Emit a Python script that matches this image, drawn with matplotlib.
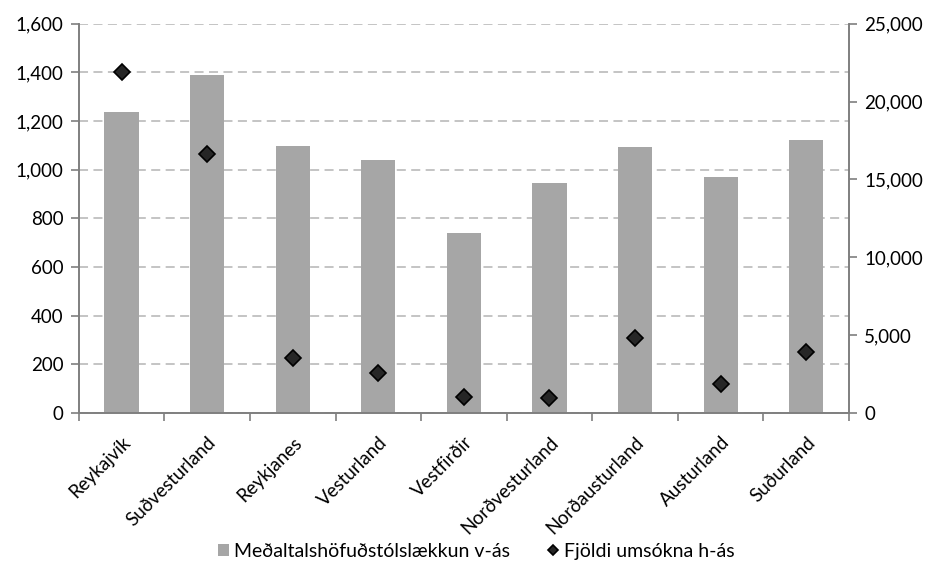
import matplotlib.pyplot as plt
from matplotlib.ticker import FuncFormatter
from matplotlib.transforms import ScaledTranslation
import numpy as np

plt.rcParams['font.family'] = ['Lato', 'DejaVu Sans']

regions = ['Reykajvík', 'Suðvesturland', 'Reykjanes', 'Vesturland', 'Vestfirðir',
           'Norðvesturland', 'Norðausturland', 'Austurland', 'Suðurland']
# average principal reduction (left axis)
lakkun = [1237, 1390, 1099, 1040, 738, 944, 1095, 971, 1122]
# number of applications (right axis)
umsoknir = [21900, 16630, 3540, 2530, 1030, 965, 4820, 1850, 3900]

gray = '#7f7f7f'
comma = FuncFormatter(lambda v, p: f'{v:,.0f}')

fig = plt.figure(figsize=(9.32, 5.64), dpi=100)
ax = fig.add_axes([0.0845, 0.268, 0.8265, 0.69])
ax2 = ax.twinx()

x = np.arange(len(regions))
bars = ax.bar(x, lakkun, width=0.4, color='#a6a6a6', zorder=2,
              label='Meðaltalshöfuðstólslækkun v-ás')
pts, = ax2.plot(x, umsoknir, 'D', color='#262626', markeredgecolor='black',
                markeredgewidth=1.2, markersize=8, zorder=3,
                label='Fjöldi umsókna h-ás')

ax.set_xlim(-0.5, len(regions) - 0.5)
ax.set_ylim(0, 1600)
ax.set_yticks(range(0, 1601, 200))
ax.yaxis.set_major_formatter(comma)
ax2.set_ylim(0, 25000)
ax2.set_yticks(range(0, 25001, 5000))
ax2.yaxis.set_major_formatter(comma)

ax.yaxis.grid(True, color='#bfbfbf', linestyle=(0, (5, 3)), linewidth=1.3, zorder=0)
ax.set_axisbelow(True)

for a in (ax, ax2):
    for s in a.spines.values():
        s.set_color(gray)
        s.set_linewidth(1.2)
    a.spines['top'].set_visible(False)
    a.tick_params(axis='y', colors=gray, labelcolor='black', labelsize=13.5,
                  length=6, width=1.2, direction='out', pad=5)

ax.set_xticks(x)
ax.set_xticklabels(regions, rotation=45, ha='right', va='top',
                   rotation_mode='anchor', fontsize=13.5)
shift = ScaledTranslation(5 / 100, 0, fig.dpi_scale_trans)
for lbl in ax.get_xticklabels():
    lbl.set_transform(lbl.get_transform() + shift)
ax.set_xticks(np.arange(-0.5, len(regions)), minor=True)
ax.tick_params(axis='x', which='major', length=0, pad=15)
ax.tick_params(axis='x', which='minor', length=6, width=1.2, colors=gray)

fig.legend(handles=[bars, pts], loc='center', bbox_to_anchor=(0.511, 0.023),
           ncol=2, frameon=False, fontsize=14, handlelength=0.55,
           handleheight=0.55, handletextpad=0.3, columnspacing=1.9,
           markerscale=0.65, borderpad=0)

fig.savefig('out.png', dpi=100)
